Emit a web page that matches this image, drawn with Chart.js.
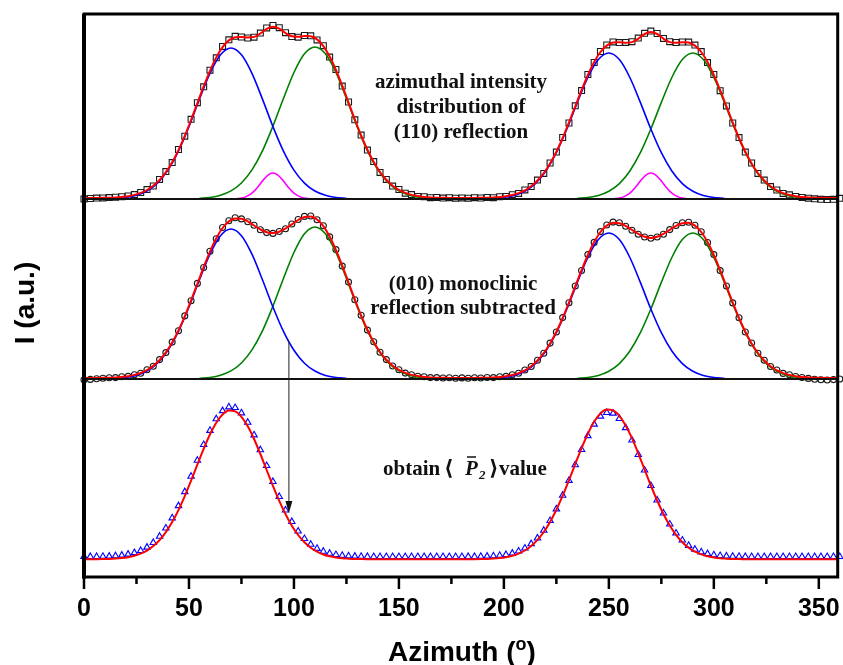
<!DOCTYPE html>
<html><head><meta charset="utf-8">
<script src="https://cdn.jsdelivr.net/npm/chart.js@4/dist/chart.umd.min.js"></script>
<style>html,body{margin:0;padding:0;background:#fff;}#wrap{width:843px;height:665px;}</style>
</head><body><div id="wrap"><canvas id="c" width="843" height="665"></canvas></div>
<script>
// ---------- data (intensity in arbitrary units, per panel) ----------
const azimuth = [0,3,6,9,12,15,18,21,24,27,30,33,36,39,42,45,48,51,54,57,60,63,66,69,72,75,78,81,84,87,90,93,96,99,102,105,108,111,114,117,120,123,126,129,132,135,138,141,144,147,150,153,156,159,162,165,168,171,174,177,180,183,186,189,192,195,198,201,204,207,210,213,216,219,222,225,228,231,234,237,240,243,246,249,252,255,258,261,264,267,270,273,276,279,282,285,288,291,294,297,300,303,306,309,312,315,318,321,324,327,330,333,336,339,342,345,348,351,354,357,360];

// panel 1: azimuthal intensity distribution of (110) reflection
const p1Marks = [0.0,0.5,0.9,1.1,1.4,1.8,2.3,3.1,4.4,6.5,
 9.4,13.0,19.6,27.4,36.4,49.5,62.8,79.7,96.3,112.2,
 128.8,141.2,152.6,159.2,162.7,162.0,161.0,161.8,165.9,171.1,
 173.6,171.3,166.3,162.4,161.8,163.5,163.2,159.1,153.3,141.9,
 129.5,112.9,97.0,79.2,63.9,48.9,37.4,26.6,19.6,12.9,
 9.5,5.8,4.4,2.6,2.3,1.3,1.5,0.9,1.3,0.8,
 1.1,0.8,1.3,1.0,1.6,1.3,2.3,2.5,4.3,5.6,
 9.1,12.4,18.9,25.6,36.0,46.9,61.5,76.0,93.2,108.4,
 124.5,136.5,147.5,154.1,157.1,156.4,156.6,157.3,160.9,165.7,
 167.9,165.5,160.6,157.3,156.5,157.0,156.9,153.9,147.4,136.4,
 124.5,108.3,93.1,76.0,61.4,46.9,36.0,25.6,18.9,12.4,
 9.0,5.6,4.2,2.5,1.6,0.8,0.2,-0.3,-0.6,-0.3,
 0.7];
const p1Fit = [1.0,1.0,1.1,1.2,1.3,1.6,2.1,2.8,4.1,6.1,
 9.0,13.2,19.1,26.9,36.8,48.9,63.1,79.1,95.9,112.6,
 128.2,141.6,151.9,158.6,161.8,162.1,161.6,162.1,165.5,170.1,
 172.3,170.4,165.9,162.7,162.2,163.0,162.7,159.6,152.9,142.5,
 129.0,113.3,96.5,79.6,63.5,49.2,37.0,27.0,19.2,13.3,
 9.1,6.1,4.1,2.9,2.1,1.6,1.3,1.2,1.1,1.0,
 1.0,1.0,1.1,1.2,1.3,1.6,2.0,2.8,4.0,5.9,
 8.7,12.8,18.5,26.0,35.6,47.3,61.0,76.5,92.7,108.8,
 124.0,136.9,147.0,153.4,156.4,156.7,156.2,156.9,160.3,165.0,
 167.0,165.0,160.3,156.9,156.2,156.7,156.4,153.4,147.0,136.9,
 124.0,108.8,92.7,76.5,61.0,47.3,35.6,26.0,18.5,12.8,
 8.7,5.9,4.0,2.8,2.0,1.6,1.3,1.2,1.1,1.0,
 1.0];

// panel 2: (010) monoclinic reflection subtracted
const p2Marks = [-0.8,-0.4,0.3,0.8,1.2,1.4,2.3,2.6,4.3,5.8,
 9.3,12.8,19.4,26.4,36.9,48.3,63.1,78.3,95.6,111.5,
 127.8,140.3,151.5,158.2,161.2,160.1,157.2,153.8,149.2,146.4,
 145.6,147.5,150.2,155.0,159.5,162.6,163.0,159.2,153.3,142.1,
 129.4,112.9,96.9,79.3,63.8,48.9,37.3,26.7,19.4,13.0,
 9.3,5.9,4.3,2.7,2.2,1.4,1.4,1.0,1.2,0.8,
 1.1,0.8,1.2,1.0,1.5,1.4,2.2,2.6,4.2,5.7,
 9.0,12.5,18.8,25.7,35.9,47.0,61.4,76.2,93.0,108.5,
 124.4,136.6,147.4,154.0,156.9,156.2,152.8,148.8,144.8,142.0,
 140.7,142.0,144.8,149.4,153.5,156.3,156.8,153.8,147.3,136.5,
 124.4,108.4,93.0,76.1,61.3,47.0,36.0,25.7,18.8,12.5,
 9.0,5.6,4.2,2.5,1.5,0.6,-0.2,-0.8,-1.0,-0.6,
 0.0];
const p2Fit = [1.0,1.0,1.1,1.2,1.3,1.6,2.1,2.8,4.1,6.0,
 9.0,13.1,19.0,26.7,36.6,48.6,62.7,78.6,95.2,111.9,
 127.3,140.7,151.0,157.6,160.6,160.3,157.6,153.5,149.6,146.7,
 145.9,147.2,150.5,154.7,159.0,162.0,162.5,159.5,152.9,142.5,
 129.0,113.3,96.5,79.6,63.5,49.2,37.0,27.0,19.2,13.3,
 9.1,6.1,4.1,2.9,2.1,1.6,1.3,1.2,1.1,1.0,
 1.0,1.0,1.1,1.2,1.3,1.6,2.0,2.8,4.0,5.9,
 8.7,12.8,18.5,26.0,35.6,47.3,61.0,76.5,92.7,108.8,
 124.0,136.9,147.0,153.4,156.2,155.8,153.1,149.1,145.1,142.2,
 141.0,142.2,145.1,149.1,153.1,155.8,156.2,153.4,147.0,136.9,
 124.0,108.8,92.7,76.5,61.0,47.3,35.6,26.0,18.5,12.8,
 8.7,5.9,4.0,2.8,2.0,1.6,1.3,1.2,1.1,1.0,
 1.0];

// panel 3: obtain <P2> value
const p3Marks = [20.3,20.4,20.4,20.5,20.7,21.1,21.7,22.7,24.2,26.4,
 29.7,34.4,40.6,48.8,59.0,71.2,85.2,100.6,116.6,132.3,
 146.5,158.1,166.2,170.0,169.3,164.0,154.6,142.0,127.1,111.3,
 95.4,80.4,66.9,55.4,45.8,38.3,32.6,28.5,25.6,23.6,
 22.3,21.5,21.0,20.7,20.5,20.4,20.3,20.3,20.3,20.3,
 20.3,20.3,20.3,20.3,20.3,20.3,20.3,20.3,20.3,20.3,
 20.3,20.4,20.4,20.5,20.7,21.0,21.5,22.4,23.7,25.8,
 28.8,33.1,38.9,46.6,56.3,68.0,81.6,96.5,112.1,127.3,
 141.2,152.7,160.7,164.4,163.7,158.4,149.2,136.8,122.3,106.8,
 91.4,76.9,63.9,52.8,43.8,36.8,31.5,27.6,25.0,23.2,
 22.0,21.3,20.9,20.6,20.5,20.4,20.3,20.3,20.3,20.3,
 20.3,20.3,20.3,20.3,20.3,20.3,20.3,20.3,20.3,20.3,
 20.3];
const p3Fit = [17.7,17.8,17.8,17.9,18.1,18.4,18.9,19.8,21.2,23.3,
 26.4,30.9,36.9,44.9,54.9,66.9,80.9,96.3,112.4,128.2,
 142.5,154.3,162.5,166.4,165.6,160.2,150.7,138.0,123.0,107.0,
 91.1,76.1,62.7,51.3,42.0,34.7,29.2,25.3,22.5,20.7,
 19.5,18.7,18.3,18.0,17.9,17.8,17.7,17.7,17.7,17.7,
 17.7,17.7,17.7,17.7,17.7,17.7,17.7,17.7,17.7,17.7,
 17.7,17.8,17.8,17.9,18.1,18.4,18.9,19.8,21.2,23.4,
 26.5,31.0,37.1,45.0,55.1,67.3,81.3,96.8,113.0,128.9,
 143.3,155.2,163.5,167.4,166.6,161.2,151.6,138.8,123.7,107.6,
 91.5,76.5,63.0,51.5,42.2,34.8,29.3,25.3,22.6,20.7,
 19.5,18.7,18.3,18.0,17.9,17.8,17.7,17.7,17.7,17.7,
 17.7,17.7,17.7,17.7,17.7,17.7,17.7,17.7,17.7,17.7,
 17.7];

// fitted peak components
const peakA_x = [15,20,25,30,35,40,45,50,55,60,65,70,75,80,85,90,95,100,105,110,115,120,125];
const peakB_x = [55,60,65,70,75,80,85,90,95,100,105,110,115,120,125,130,135,140,145,150,155,160,165];
const peakC_x = [195,200,205,210,215,220,225,230,235,240,245,250,255,260,265,270,275,280,285,290,295,300,305];
const peakD_x = [235,240,245,250,255,260,265,270,275,280,285,290,295,300,305,310,315,320,325,330,335,340,345];
const peakM1_x = [72.5,75,77.5,80,82.5,85,87.5,90,92.5,95,97.5,100,102.5,105,107.5];
const peakM2_x = [252.5,255,257.5,260,262.5,265,267.5,270,272.5,275,277.5,280,282.5,285,287.5];

const p1Blue1  = [0.6,1.5,3.7,8.0,15.9,28.9,47.9,72.4,99.9,125.7,144.2,151,144.2,125.7,99.9,72.4,47.9,28.9,15.9,8.0,3.7,1.5,0.6];
const p1Green1 = [0.6,1.5,3.7,8.1,16.0,29.1,48.2,72.9,100.5,126.5,145.2,152,145.2,126.5,100.5,72.9,48.2,29.1,16.0,8.1,3.7,1.5,0.6];
const p1Blue2  = [0.6,1.5,3.5,7.7,15.4,28.0,46.3,70.0,96.6,121.5,139.4,146,139.4,121.5,96.6,70.0,46.3,28.0,15.4,7.7,3.5,1.5,0.6];
const p1Green2 = [0.6,1.5,3.5,7.7,15.4,28.0,46.3,70.0,96.6,121.5,139.4,146,139.4,121.5,96.6,70.0,46.3,28.0,15.4,7.7,3.5,1.5,0.6];
const p1Mag1   = [0.3,0.9,2.6,5.9,11.3,17.9,23.7,26,23.7,17.9,11.3,5.9,2.6,0.9,0.3];
const p1Mag2   = [0.3,0.9,2.6,5.9,11.3,17.9,23.7,26,23.7,17.9,11.3,5.9,2.6,0.9,0.3];
const p2Blue1  = [0.6,1.5,3.6,8.0,15.8,28.7,47.6,72.0,99.2,124.8,143.3,150,143.3,124.8,99.2,72.0,47.6,28.7,15.8,8.0,3.6,1.5,0.6];
const p2Green1 = [0.6,1.5,3.7,8.1,16.0,29.1,48.2,72.9,100.5,126.5,145.2,152,145.2,126.5,100.5,72.9,48.2,29.1,16.0,8.1,3.7,1.5,0.6];
const p2Blue2  = [0.6,1.5,3.5,7.7,15.4,28.0,46.3,70.0,96.6,121.5,139.4,146,139.4,121.5,96.6,70.0,46.3,28.0,15.4,7.7,3.5,1.5,0.6];
const p2Green2 = [0.6,1.5,3.5,7.7,15.4,28.0,46.3,70.0,96.6,121.5,139.4,146,139.4,121.5,96.6,70.0,46.3,28.0,15.4,7.7,3.5,1.5,0.6];

const majorTicks = [0,50,100,150,200,250,300,350];
const minorTicks = [25,75,125,175,225,275,325];
const arrowAzimuth = 97.6, arrowFromP2 = 37.5, arrowToP3 = 64;

// ---------- build ----------
const pts = (xs, ys) => xs.map((x, i) => ({x: x, y: ys[i]}));
const line = (xs, ys, axis, color, w, order) => ({
  data: pts(xs, ys), yAxisID: axis, borderColor: color, borderWidth: w,
  pointRadius: 0, fill: false, cubicInterpolationMode: 'monotone', order: order
});
const marks = (ys, axis, style, r, color) => ({
  data: pts(azimuth, ys), yAxisID: axis, showLine: false, pointStyle: style,
  pointRadius: r, pointBorderWidth: 1.1, pointBorderColor: color,
  pointBackgroundColor: 'rgba(255,255,255,0)', borderColor: color, order: 3, clip: false
});
const RED = '#ff0000', BLUE = '#0000ff', GREEN = '#008000', MAG = '#ff00ff';

const datasets = [
  line(azimuth, p1Fit, 'y1', RED, 2, 0),
  line(azimuth, p2Fit, 'y2', RED, 2, 0),
  line(azimuth, p3Fit, 'y3', RED, 2, 0),
  line(peakA_x, p1Blue1, 'y1', BLUE, 1.6, 1),
  line(peakB_x, p1Green1, 'y1', GREEN, 1.6, 1),
  line(peakC_x, p1Blue2, 'y1', BLUE, 1.6, 1),
  line(peakD_x, p1Green2, 'y1', GREEN, 1.6, 1),
  line(peakM1_x, p1Mag1, 'y1', MAG, 1.6, 1),
  line(peakM2_x, p1Mag2, 'y1', MAG, 1.6, 1),
  line(peakA_x, p2Blue1, 'y2', BLUE, 1.6, 1),
  line(peakB_x, p2Green1, 'y2', GREEN, 1.6, 1),
  line(peakC_x, p2Blue2, 'y2', BLUE, 1.6, 1),
  line(peakD_x, p2Green2, 'y2', GREEN, 1.6, 1),
  marks(p1Marks, 'y1', 'rect', 4.2, '#1a1a1a'),
  marks(p2Marks, 'y2', 'circle', 3.0, '#1a1a1a'),
  marks(p3Marks, 'y3', 'triangle', 3.7, BLUE)
];

const yAxis = (min, max, w, weight) => ({
  type: 'linear', position: 'left', stack: 'panels', stackWeight: w, weight: weight,
  min: min, max: max, display: true,
  ticks: {display: false}, grid: {display: false, drawTicks: false}, border: {display: false},
  afterFit: s => { s.width = 84; s.paddingTop = 0; s.paddingBottom = 0; }
});

const decor = {
  id: 'decor',
  beforeDraw(chart) {
    const c = chart.ctx; c.save(); c.fillStyle = '#fff'; c.fillRect(0, 0, chart.width, chart.height); c.restore();
  },
  afterDraw(chart) {
    const c = chart.ctx, a = chart.chartArea, S = chart.scales, xs = S.x;
    c.save();
    // panel separators
    c.strokeStyle = '#111'; c.lineWidth = 2;
    [S.y1.bottom, S.y2.bottom].forEach(y => { c.beginPath(); c.moveTo(a.left, y); c.lineTo(a.right, y); c.stroke(); });
    // frame
    c.strokeStyle = '#000'; c.lineWidth = 3;
    c.strokeRect(a.left, a.top, a.right - a.left, a.bottom - a.top);
    c.lineWidth = 4; c.beginPath(); c.moveTo(a.left, a.top); c.lineTo(a.left, a.bottom + 1.5); c.stroke();
    // ticks
    c.lineWidth = 2.5;
    majorTicks.forEach(v => { const x = xs.getPixelForValue(v); c.beginPath(); c.moveTo(x, a.bottom); c.lineTo(x, a.bottom + 12); c.stroke(); });
    minorTicks.forEach(v => { const x = xs.getPixelForValue(v); c.beginPath(); c.moveTo(x, a.bottom); c.lineTo(x, a.bottom + 7); c.stroke(); });
    // arrow
    const ax = xs.getPixelForValue(arrowAzimuth);
    const ay1 = S.y2.getPixelForValue(arrowFromP2), ay2 = S.y3.getPixelForValue(arrowToP3);
    c.strokeStyle = '#222'; c.lineWidth = 1;
    c.beginPath(); c.moveTo(ax, ay1); c.lineTo(ax, ay2 - 10); c.stroke();
    c.fillStyle = '#111';
    c.beginPath(); c.moveTo(ax - 3.5, ay2 - 12); c.lineTo(ax + 3.5, ay2 - 12); c.lineTo(ax, ay2); c.closePath(); c.fill();
    // panel texts
    c.fillStyle = '#111'; c.textAlign = 'center'; c.textBaseline = 'alphabetic';
    c.font = 'bold 21px "Liberation Serif", "Times New Roman", serif';
    c.fillText('azimuthal intensity', 461, 88);
    c.fillText('distribution of', 461, 113);
    c.fillText('(110) reflection', 461, 138);
    c.fillText('(010) monoclinic', 463, 290);
    c.fillText('reflection subtracted', 463, 314);
    // obtain <P2> value
    c.textAlign = 'left';
    c.fillText('obtain', 383, 475);
    c.font = 'bold 21px "Liberation Serif", "DejaVu Serif", serif';
    c.fillText('\u27E8', 444, 475);
    c.fillText('\u27E9', 489, 475);
    c.font = 'italic bold 21px "Liberation Serif", "Times New Roman", serif';
    c.fillText('P', 465, 475);
    c.font = 'italic bold 13px "Liberation Serif", "Times New Roman", serif';
    c.fillText('2', 479, 479);
    c.strokeStyle = '#111'; c.lineWidth = 1.5;
    c.beginPath(); c.moveTo(467, 457); c.lineTo(476, 457); c.stroke();
    c.font = 'bold 21px "Liberation Serif", "Times New Roman", serif';
    c.fillText('value', 499, 475);
    // x axis title
    c.fillStyle = '#000';
    const f1 = 'bold 28px "Liberation Sans", Arial, sans-serif', f2 = 'bold 18px "Liberation Sans", Arial, sans-serif';
    c.font = f1; const w1 = c.measureText('Azimuth (').width, w3 = c.measureText(')').width;
    c.font = f2; const w2 = c.measureText('o').width;
    let tx = (a.left + a.right) / 2 + 1 - (w1 + w2 + w3) / 2;
    c.font = f1; c.fillText('Azimuth (', tx, 661);
    c.font = f2; c.fillText('o', tx + w1, 650);
    c.font = f1; c.fillText(')', tx + w1 + w2, 661);
    // y axis title
    c.translate(34, 303); c.rotate(-Math.PI / 2);
    c.textAlign = 'center'; c.font = f1; c.fillText('I (a.u.)', 0, 0);
    c.restore();
  }
};

new Chart(document.getElementById('c'), {
  type: 'line',
  data: {datasets: datasets},
  options: {
    responsive: false, animation: false, devicePixelRatio: 1,
    layout: {padding: {top: 14, right: 4, left: 0, bottom: 0}},
    plugins: {legend: {display: false}, tooltip: {enabled: false}},
    elements: {line: {tension: 0.3}},
    scales: {
      x: {
        type: 'linear', position: 'bottom', min: 0, max: 359,
        grid: {display: false, drawTicks: false}, border: {display: false},
        ticks: {stepSize: 50, includeBounds: false, autoSkip: false, maxRotation: 0, padding: 17,
                color: '#000', font: {family: '"Liberation Sans", Arial, sans-serif', size: 25, weight: 'bold'}},
        afterFit: s => { s.height = 88; s.paddingLeft = 0; s.paddingRight = 0; }
      },
      y3: yAxis(0, 198, 198, 1),
      y2: yAxis(0, 180, 180, 2),
      y1: yAxis(0, 185, 185, 3)
    }
  },
  plugins: [decor]
});
</script></body></html>
